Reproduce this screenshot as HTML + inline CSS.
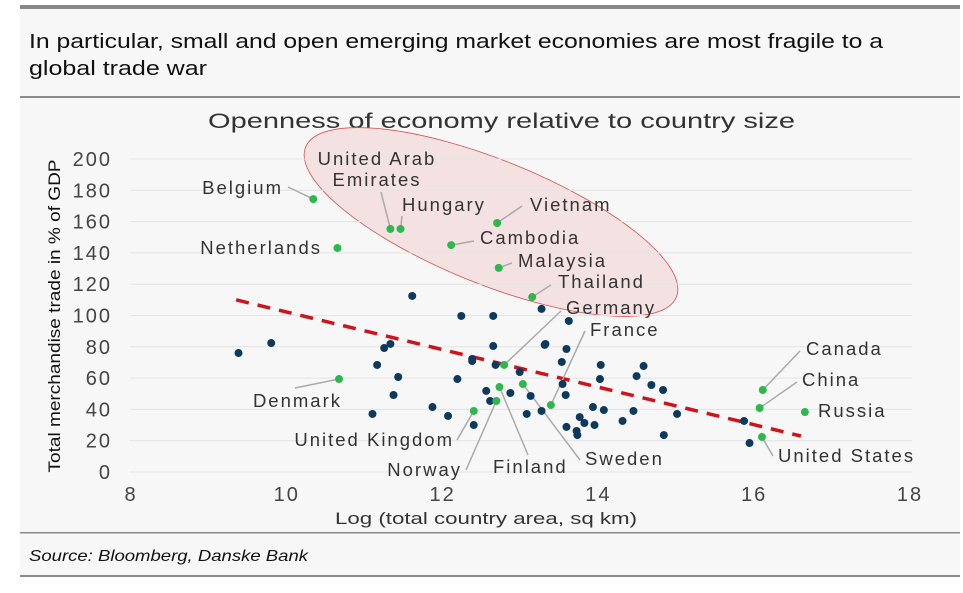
<!DOCTYPE html>
<html><head><meta charset="utf-8"><style>
body{margin:0;background:#fff;}
svg{display:block;font-family:"Liberation Sans",sans-serif;}
</style></head><body>
<svg id="chart" width="963" height="593" viewBox="0 0 963 593">
<rect x="20" y="5" width="940" height="572" fill="#f7f7f7"/>
<rect x="20" y="5" width="940" height="4" fill="#888"/>
<text x="29" y="48" font-size="20" fill="#111" textLength="854" lengthAdjust="spacingAndGlyphs">In particular, small and open emerging market economies are most fragile to a</text>
<text x="29" y="75" font-size="20" fill="#111" textLength="178" lengthAdjust="spacingAndGlyphs">global trade war</text>
<rect x="20" y="96" width="940" height="2" fill="#8a8a8a"/>
<text x="208" y="128" font-size="21" fill="#333" textLength="587" lengthAdjust="spacingAndGlyphs">Openness of economy relative to country size</text>
<ellipse cx="491" cy="222" rx="200" ry="62" transform="rotate(22 491 222)" fill="#f3dcdc" fill-opacity="0.8" stroke="#d9534f" stroke-width="0.8"/>
<g id="grid"></g>
<g id="axes"></g>
<g id="trend"></g>
<g id="leaders" stroke="#aaa" stroke-width="1.5" fill="none"></g>
<g id="dots"></g>
<g id="labels" font-size="18.5" letter-spacing="2" fill="#333"></g>
<text transform="translate(60 316) rotate(-90)" font-size="17" fill="#111" text-anchor="middle" textLength="313" lengthAdjust="spacingAndGlyphs">Total merchandise trade in % of GDP</text>
<text x="335" y="524" font-size="17" fill="#333" textLength="302" lengthAdjust="spacingAndGlyphs">Log (total country area, sq km)</text>
<rect x="20" y="532" width="940" height="1.5" fill="#8a8a8a"/>
<text x="29" y="561" font-size="16" font-style="italic" fill="#111" textLength="279" lengthAdjust="spacingAndGlyphs">Source: Bloomberg, Danske Bank</text>
<rect x="20" y="575" width="940" height="2" fill="#8a8a8a"/>
</svg>
<script>
const xTicks=[8,10,12,14,16,18];
const yTicks=[0,20,40,60,80,100,120,140,160,180,200];
const otherX=[11.61,12.24,12.65,13.27,9.80,9.38,11.25,11.33,12.65,13.32,12.38,12.38,12.68,12.99,11.16,11.43,12.19,12.56,12.87,13.13,11.37,12.61,11.10,11.87,12.07,13.08,13.27,12.40,13.62,13.31,13.59,13.53,14.03,14.58,14.02,14.49,13.54,14.68,14.83,13.58,13.93,14.07,14.45,15.01,13.76,13.82,13.95,14.31,13.59,13.72,13.73,14.84,15.87,15.94];
const otherY=[112.5,99.7,99.7,104.2,82.4,76.0,79.2,81.8,80.5,81.8,72.2,70.9,68.4,63.9,68.4,60.7,59.4,51.8,50.5,48.6,49.2,45.4,37.1,41.5,35.8,37.1,39.0,30.0,96.5,81.2,78.6,70.3,68.4,67.7,59.4,61.3,56.2,55.6,52.4,49.2,41.5,39.6,39.0,37.1,35.1,31.3,30.0,32.6,28.8,26.2,23.6,23.6,32.6,18.5];
const countries=["Belgium","Netherlands","United Arab Emirates","Hungary","Vietnam","Cambodia","Malaysia","Thailand","Germany","Denmark","United Kingdom","Norway","Finland","Sweden","France","Canada","China","Russia","United States"];
const countryX=[10.34,10.65,11.33,11.46,12.70,12.11,12.72,13.15,12.79,10.67,12.40,12.69,12.73,13.03,13.39,16.11,16.07,16.65,16.10];
const countryY=[174.4,143.1,155.3,155.3,159.1,145.0,130.4,111.8,68.4,59.4,39.0,45.4,54.3,56.2,42.8,52.4,40.9,38.3,22.4];
const trendX=[9.35,16.6];
const trendY=[110,23];

const X0=131,XS=77.9,Y0=472,YS=1.565;
const sx=v=>X0+(v-8)*XS, sy=v=>Y0-v*YS;
const NS="http://www.w3.org/2000/svg";
function mk(tag,attrs,parent){const e=document.createElementNS(NS,tag);for(const k in attrs)e.setAttribute(k,attrs[k]);parent.appendChild(e);return e;}
const G=id=>document.getElementById(id);

yTicks.forEach(t=>{
  const l=mk('line',{x1:130,x2:912,y1:sy(t),y2:sy(t),stroke:'#e4e4e4','stroke-width':1},G('grid'));
  
  
  const tx=mk('text',{x:112,y:sy(t)+7,'font-size':20,'letter-spacing':2,fill:'#444','text-anchor':'end'},G('axes'));
  tx.textContent=t;
  
  
});
xTicks.forEach(t=>{
  const tx=mk('text',{x:sx(t),y:501,'font-size':20,'letter-spacing':2,fill:'#444','text-anchor':'middle'},G('axes'));
  tx.textContent=t;
  
  
});
const tl=mk('line',{x1:sx(trendX[0]),y1:sy(trendY[0]),x2:sx(trendX[1]),y2:sy(trendY[1]),stroke:'#d0121b','stroke-width':3.5,'stroke-dasharray':'13 9'},G('trend'));



otherX.forEach((x,i)=>{
  const c=mk('circle',{cx:sx(x),cy:sy(otherY[i]),r:4,fill:'#0b3a5e'},G('dots'));
  
  
});

const lab=[
 [283,194,'end',288,187],[322,254,'end',0,0],[377,186,'middle',381,192],[402,211,'start',402,216],
 [530,211,'start',522,206],[480,244,'start',474,241],[518,267,'start',512,263],[558,288,'start',551,285],
 [566,314,'start',561,311],[342,407,'end',295,388],[454,446,'end',457,440],[462,476,'end',466,470],
 [493,473,'start',528,455],[585,465,'start',580,460],[590,336,'start',585,331],[806,355,'start',800,351],
 [802,386,'start',797,382],[818,417,'start',0,0],[778,462,'start',773,456]];
countries.forEach((n,i)=>{
  const px=sx(countryX[i]),py=sy(countryY[i]);
  const L=lab[i];
  if(L[3]){
    const p=mk('polyline',{points:`${L[3]},${L[4]} ${px},${py}`},G('leaders'));
    
    
  }
  const c=mk('circle',{cx:px,cy:py,r:4,fill:'#2db84d'},G('dots'));
  
  
  if(n==="United Arab Emirates"){
    const t1=mk('text',{x:L[0],y:L[1]-21,'text-anchor':'middle'},G('labels'));t1.textContent="United Arab";
    
    
    const t2=mk('text',{x:L[0],y:L[1],'text-anchor':'middle'},G('labels'));t2.textContent="Emirates";
    
    
  } else {
    const t=mk('text',{x:L[0],y:L[1],'text-anchor':L[2]},G('labels'));t.textContent=n;
    
    
  }
});
</script>
</body></html>
